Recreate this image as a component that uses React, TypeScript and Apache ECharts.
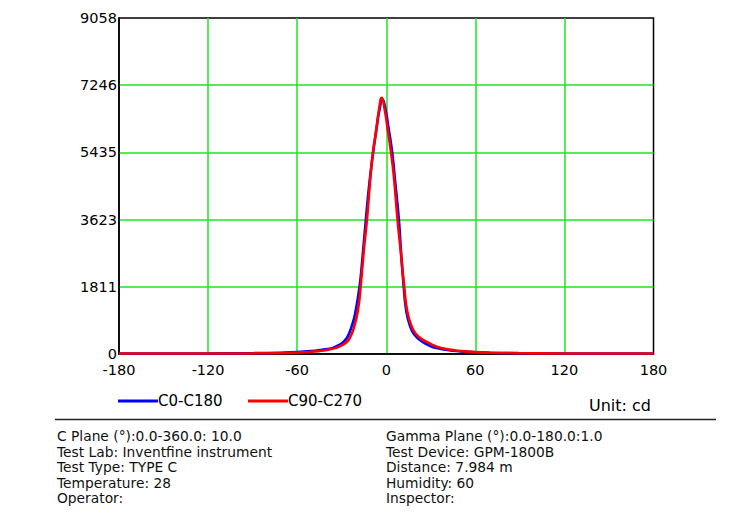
import React, { useEffect, useRef } from "react";
import * as echarts from "echarts";

// ---- data ----
const redName = "C90-C270";
const redAngles = [-180, -150, -120, -90, -70, -60, -50, -45, -40, -34, -30, -26, -24, -22, -19, -17, -15, -13, -11, -9, -7, -5, -3, -1, 1, 3, 5, 7.5, 10, 12, 14, 17, 20, 24, 27, 32, 38, 45, 50, 60, 70, 90, 120, 150, 180];
const redValues = [12, 12, 14, 18, 28, 38, 60, 80, 110, 165, 230, 350, 480, 680, 1200, 1930, 2840, 3623, 4600, 5435, 5950, 6550, 6910, 6580, 6050, 5500, 4840, 3670, 2670, 1850, 1180, 750, 540, 400, 335, 230, 155, 105, 80, 50, 35, 22, 15, 12, 12];

const blueName = "C0-C180";
const blueAngles = [-180, -150, -120, -90, -70, -60, -50, -45, -40, -36, -32, -29, -26, -23, -21, -18, -16, -14, -11.5, -9, -6.5, -4.5, -2.5, -0.5, 1.5, 4, 6, 8.5, 10, 11.6, 13.5, 16, 19, 24, 30, 34, 40, 50, 60, 70, 90, 120, 150, 180];
const blueValues = [12, 12, 15, 22, 35, 50, 80, 105, 135, 165, 240, 320, 470, 780, 1080, 1811, 2600, 3500, 4550, 5380, 6100, 6600, 6860, 6600, 6100, 5435, 4650, 3623, 2720, 1900, 1150, 760, 520, 340, 210, 160, 115, 70, 45, 32, 20, 14, 12, 12];

const xMin = -180;
const xMax = 180;
const xInterval = 60;
const yMax = 9058;
const yInterval = 1811.6;
const yTickLabels = ["0", "1811", "3623", "5435", "7246", "9058"];

const unitText = "Unit: cd";
const infoLeft = [
  "C Plane (°):0.0-360.0: 10.0",
  "Test Lab: Inventfine instrument",
  "Test Type: TYPE C",
  "Temperature: 28",
  "Operator:",
];
const infoRight = [
  "Gamma Plane (°):0.0-180.0:1.0",
  "Test Device: GPM-1800B",
  "Distance: 7.984 m",
  "Humidity: 60",
  "Inspector:",
];

const FONT = "DejaVu Sans, Verdana, sans-serif";
const GREEN = "#1ee61e";
const BLUE = "#0000ff";
const RED = "#ff0000";

export default function App() {
  const ref = useRef<HTMLDivElement>(null);

  useEffect(() => {
    if (!ref.current) return;
    const chart = echarts.init(ref.current, undefined, { renderer: "svg" });

    const redData = redAngles.map((a, i) => [a, redValues[i]]);
    const blueData = blueAngles.map((a, i) => [a, blueValues[i]]);

    const lineH = 15.6;
    const infoTop = 436;
    const graphics: any[] = [];
    graphics.push(
      { type: "line", shape: { x1: 118, y1: 401, x2: 158, y2: 401 }, style: { stroke: BLUE, lineWidth: 3 } },
      { type: "text", x: 158, y: 401, style: { text: blueName, font: `15px ${FONT}`, fill: "#000", verticalAlign: "middle" } },
      { type: "line", shape: { x1: 248, y1: 401, x2: 288, y2: 401 }, style: { stroke: RED, lineWidth: 3 } },
      { type: "text", x: 288, y: 401, style: { text: redName, font: `15px ${FONT}`, fill: "#000", verticalAlign: "middle" } },
      { type: "text", x: 589, y: 405, style: { text: unitText, font: `16px ${FONT}`, fill: "#000", verticalAlign: "middle" } },
      { type: "line", shape: { x1: 55, y1: 419.5, x2: 716, y2: 419.5 }, style: { stroke: "#222", lineWidth: 1.5 } }
    );
    infoLeft.forEach((t, i) => {
      graphics.push({ type: "text", x: 57, y: infoTop + i * lineH, style: { text: t, font: `13.8px ${FONT}`, fill: "#111", verticalAlign: "middle" } });
    });
    infoRight.forEach((t, i) => {
      graphics.push({ type: "text", x: 386, y: infoTop + i * lineH, style: { text: t, font: `13.8px ${FONT}`, fill: "#111", verticalAlign: "middle" } });
    });

    chart.setOption({
      animation: false,
      backgroundColor: "#fff",
      textStyle: { fontFamily: FONT },
      grid: {
        left: 119,
        right: 99.5,
        top: 18,
        bottom: 171,
        show: true,
        borderColor: "#000",
        borderWidth: 1.5,
        backgroundColor: "#fff",
      },
      xAxis: {
        type: "value",
        min: xMin,
        max: xMax,
        interval: xInterval,
        axisLine: { show: true, onZero: false, lineStyle: { color: "#000", width: 1.5 } },
        axisTick: { show: false },
        splitLine: { show: true, showMinLine: false, showMaxLine: false, lineStyle: { color: GREEN, width: 1.5 } },
        axisLabel: { color: "#000", fontSize: 14.5, fontFamily: FONT, margin: 8 },
      },
      yAxis: {
        type: "value",
        min: 0,
        max: yMax,
        interval: yInterval,
        axisLine: { show: true, onZero: false, lineStyle: { color: "#000", width: 1.5 } },
        axisTick: { show: false },
        splitLine: { show: true, showMinLine: false, showMaxLine: false, lineStyle: { color: GREEN, width: 1.5 } },
        axisLabel: {
          color: "#000",
          fontSize: 14.5,
          fontFamily: FONT,
          margin: 2,
          padding: [5, 0, 0, 0],
          showMaxLabel: true,
          formatter: (v: number) => yTickLabels[Math.round(v / yInterval)] ?? "",
        },
      },
      series: [
        {
          name: blueName,
          type: "line",
          data: blueData,
          showSymbol: false,
          smooth: 0.5,
          lineStyle: { color: BLUE, width: 2.6 },
          itemStyle: { color: BLUE },
          z: 2,
        },
        {
          name: redName,
          type: "line",
          data: redData,
          showSymbol: false,
          smooth: 0.5,
          lineStyle: { color: RED, width: 2.6 },
          itemStyle: { color: RED },
          z: 3,
        },
      ],
      graphic: graphics,
    });

    return () => chart.dispose();
  }, []);

  return (
    <div
      ref={ref}
      style={{ position: "absolute", left: 0, top: 0, width: 753, height: 525, background: "#fff" }}
    />
  );
}
